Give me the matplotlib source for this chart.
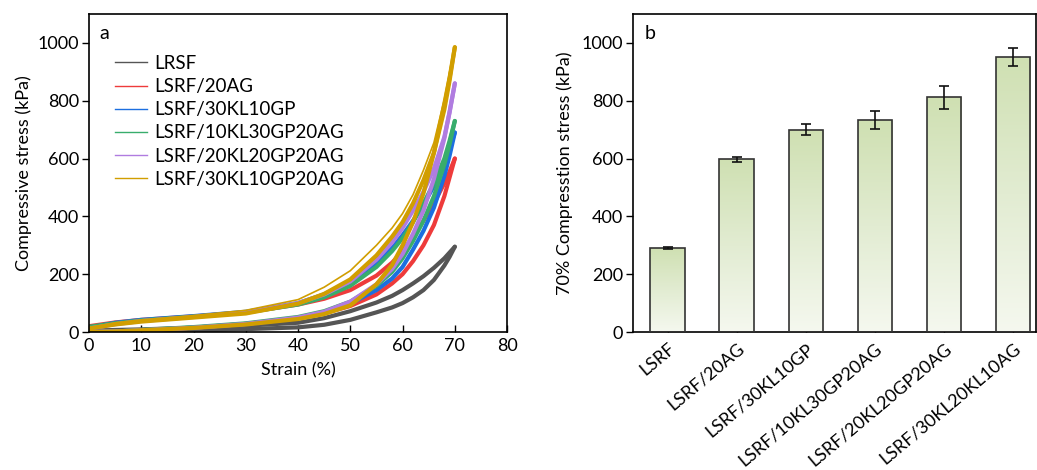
import matplotlib
matplotlib.use("Agg")
import matplotlib.pyplot as plt
import numpy as np

plt.rcParams['font.family'] = ['Lato', 'DejaVu Sans']
plt.rcParams['font.size'] = 13

# ---- panel a: cyclic compression curves ----
strain = [0, 5, 10, 20, 30, 40, 45, 50, 55, 58, 60, 62, 64, 66, 68, 69, 70]

names = ["LRSF", "LSRF/20AG", "LSRF/30KL10GP", "LSRF/10KL30GP20AG",
         "LSRF/20KL20GP20AG", "LSRF/30KL10GP20AG"]
colors = ["#555555", "#ee3b3b", "#1c6fe0", "#38ad6c", "#b07ce0", "#d19e00"]

load_lrsf = [5, 7, 9, 15, 22, 32, 48, 72, 102, 125, 145, 168, 193, 222, 255, 275, 295]
unload_lrsf = [0, 0, 1, 5, 10, 16, 25, 42, 68, 85, 100, 120, 145, 180, 230, 260, 295]
load_20ag = [20, 33, 42, 54, 68, 95, 115, 145, 195, 240, 280, 330, 385, 445, 515, 555, 600]
unload_20ag = [0, 2, 6, 15, 28, 48, 65, 90, 130, 168, 200, 245, 300, 370, 470, 535, 600]
load_30kl = [15, 32, 42, 55, 70, 100, 130, 175, 240, 290, 335, 385, 440, 505, 585, 635, 690]
unload_30kl = [0, 2, 6, 15, 28, 48, 68, 98, 145, 185, 225, 285, 350, 430, 540, 610, 690]
load_10kl = [18, 30, 40, 53, 67, 95, 120, 160, 225, 280, 325, 380, 445, 515, 600, 662, 730]
unload_10kl = [0, 2, 7, 17, 30, 52, 72, 105, 160, 208, 255, 315, 385, 470, 580, 650, 730]
load_20kl = [12, 27, 38, 52, 68, 100, 130, 175, 250, 310, 360, 420, 485, 565, 675, 762, 860]
unload_20kl = [0, 2, 6, 15, 28, 50, 70, 105, 165, 218, 270, 340, 420, 530, 670, 760, 860]
first_30kl20ag = [15, 32, 42, 57, 75, 112, 155, 212, 300, 360, 410, 475, 560, 655, 805, 900, 985]
load_30kl20ag = [12, 26, 36, 50, 64, 98, 132, 182, 265, 330, 380, 445, 525, 620, 770, 870, 985]
unload_30kl20ag = [0, 2, 6, 14, 26, 45, 62, 92, 165, 232, 300, 380, 480, 620, 790, 880, 985]

loads = [load_lrsf, load_20ag, load_30kl, load_10kl, load_20kl, load_30kl20ag]
unloads = [unload_lrsf, unload_20ag, unload_30kl, unload_10kl, unload_20kl, unload_30kl20ag]

# ---- panel b: stress at 70% strain ----
groups = ["LSRF", "LSRF/20AG", "LSRF/30KL10GP", "LSRF/10KL30GP20AG",
          "LSRF/20KL20GP20AG", "LSRF/30KL20KL10AG"]
stress70 = [290, 597, 700, 733, 812, 952]
stress70_err = [3, 10, 19, 30, 40, 31]

fig = plt.figure(figsize=(10.37, 4.70), dpi=100)
axa = fig.add_axes([0.0858, 0.2936, 0.4032, 0.6766])
axb = fig.add_axes([0.6104, 0.2936, 0.3886, 0.6766])

for i in range(len(names)):
    axa.plot(strain, loads[i], color=colors[i], lw=3.0, solid_capstyle='round')
    axa.plot(strain, unloads[i], color=colors[i], lw=3.0, solid_capstyle='round')
    axa.plot([], [], color=colors[i], lw=1.0, label=names[i])
axa.plot(strain, first_30kl20ag, color=colors[5], lw=1.2)

axa.set_xlim(0, 80)
axa.set_ylim(0, 1100)
axa.set_xticks(range(0, 81, 10))
axa.set_yticks(range(0, 1001, 200))
axa.tick_params(axis='x', direction='in', length=5, width=1, pad=4)
axa.tick_params(axis='y', direction='out', length=5, width=1, pad=2)
axa.set_xlabel("Strain (%)", labelpad=6)
axa.set_ylabel("Compressive stress (kPa)", labelpad=4)
axa.text(0.025, 0.965, "a", transform=axa.transAxes, fontsize=14, va='top')
axa.legend(loc='upper left', bbox_to_anchor=(0.045, 0.895), frameon=False,
           handlelength=1.7, handletextpad=0.37, labelspacing=0.33, fontsize=13.5,
           borderaxespad=0)
for s in axa.spines.values():
    s.set_linewidth(1.2)

# gradient bars
x = np.arange(len(groups))
bars = axb.bar(x, stress70, width=0.5, color='none', edgecolor='#333333', lw=1.2, zorder=3)
grad = np.linspace(0, 1, 256).reshape(-1, 1)
cmap = matplotlib.colors.LinearSegmentedColormap.from_list(
    "g", ["#f5f8ef", "#e2ecd2", "#cfe0b2"])
for b in bars:
    x0, y0 = b.get_x(), b.get_y()
    im = axb.imshow(grad, cmap=cmap, origin='lower', aspect='auto',
                    extent=[x0, x0 + b.get_width(), y0, y0 + b.get_height()], zorder=2)
    im.set_clip_path(b)
axb.errorbar(x, stress70, yerr=stress70_err, fmt='none', ecolor='#111111',
             elinewidth=1.2, capsize=3.5, capthick=1.2, zorder=4)

axb.set_xlim(-0.5, 5.33)
axb.set_ylim(0, 1100)
axb.set_yticks(range(0, 1001, 200))
axb.set_xticks(x)
axb.set_xticklabels(groups, rotation=40, ha='right', va='top', rotation_mode='anchor')
axb.tick_params(axis='x', direction='in', length=5, width=1, pad=6)
axb.tick_params(axis='y', direction='out', length=5, width=1, pad=2)
axb.set_ylabel("70% Compresstion stress (kPa)", labelpad=6)
axb.text(0.03, 0.965, "b", transform=axb.transAxes, fontsize=14, va='top')
for s in axb.spines.values():
    s.set_linewidth(1.2)

fig.savefig("out.png", dpi=100)
